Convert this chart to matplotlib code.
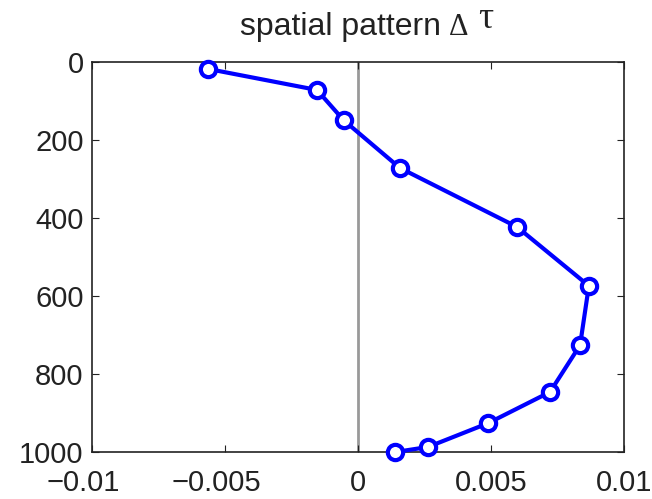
import matplotlib
matplotlib.use("Agg")
import matplotlib.pyplot as plt
from matplotlib.transforms import ScaledTranslation

# profil przestrzenny: odchylenie vs glebokosc
glebokosc = [18, 72, 150, 272, 423, 574, 726, 846, 926, 987, 1000]
odchylenie = [-0.00564, -0.00154, -0.00053, 0.00158, 0.00598, 0.00868,
              0.00835, 0.00722, 0.00489, 0.00263, 0.00139]

x_ticks = [-0.01, -0.005, 0, 0.005, 0.01]
x_tick_labels = ["\u22120.01", "\u22120.005", "0", "0.005", "0.01"]
y_ticks = [0, 200, 400, 600, 800, 1000]

plt.rcParams["font.family"] = ["Liberation Sans", "DejaVu Sans"]
kolor_tekstu = "#222222"

fig = plt.figure(figsize=(6.52, 4.99), dpi=100)
ax = fig.add_axes([0.141, 0.094, 0.816, 0.782])

ax.axvline(0, color="#999999", lw=2, zorder=1)
ax.plot(odchylenie, glebokosc, "-o", color="blue", lw=3, ms=11,
        mfc="white", mec="blue", mew=3, zorder=3, clip_on=False)

ax.set_xlim(-0.01, 0.01)
ax.set_ylim(1000, 0)
ax.set_xticks(x_ticks)
ax.set_xticklabels(x_tick_labels)
ax.set_yticks(y_ticks)
ax.tick_params(direction="in", top=True, right=True, labelsize=21,
               length=5, width=0.8, colors=kolor_tekstu)
ax.tick_params(axis="y", pad=6)
ax.tick_params(axis="x", pad=12)
for s in ax.spines.values():
    s.set_linewidth(1.2)
    s.set_color(kolor_tekstu)

# minus wystaje w lewo, liczba wycentrowana pod kreska
for etykieta in ax.get_xticklabels():
    if etykieta.get_text().startswith("\u2212"):
        etykieta.set_transform(etykieta.get_transform() +
                               ScaledTranslation(-0.09, 0, fig.dpi_scale_trans))

# tytul skladany z kawalkow: tekst, Delta i podniesione tau
fig.text(240 / 652, 1 - 35 / 499, "spatial pattern", fontsize=23,
         color=kolor_tekstu, ha="left", va="baseline")
fig.text(449 / 652, 1 - 35 / 499, "\u0394", fontsize=22,
         family="Liberation Serif", color=kolor_tekstu, ha="left",
         va="baseline")
fig.text(478 / 652, 1 - 28 / 499, "\u03c4", fontsize=27,
         family="Liberation Serif", color=kolor_tekstu, ha="left",
         va="baseline")

fig.savefig("out.png", dpi=100)
